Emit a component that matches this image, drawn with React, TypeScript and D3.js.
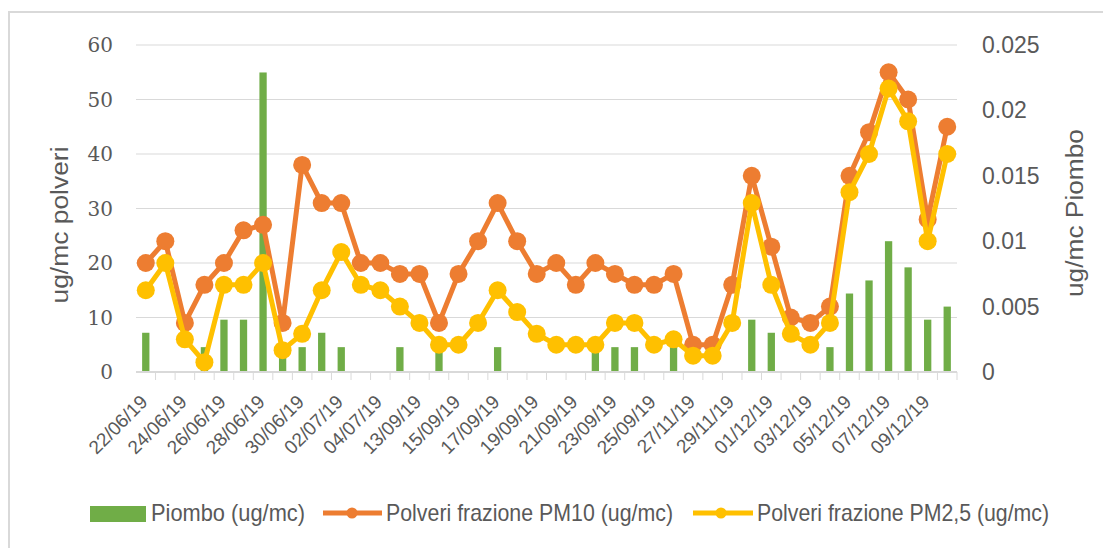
import * as d3 from 'd3'

const dates = [
  '22/06/19', '23/06/19', '24/06/19', '25/06/19', '26/06/19', '27/06/19', '28/06/19',
  '29/06/19', '30/06/19', '01/07/19', '02/07/19', '03/07/19', '04/07/19', '12/09/19',
  '13/09/19', '14/09/19', '15/09/19', '16/09/19', '17/09/19', '18/09/19', '19/09/19',
  '20/09/19', '21/09/19', '22/09/19', '23/09/19', '24/09/19', '25/09/19', '26/11/19',
  '27/11/19', '28/11/19', '29/11/19', '30/11/19', '01/12/19', '02/12/19', '03/12/19',
  '04/12/19', '05/12/19', '06/12/19', '07/12/19', '08/12/19', '09/12/19', '10/12/19',
]

// ug/mc, right axis
const piombo = [
  0.003, 0, 0, 0.0019, 0.004, 0.004, 0.0229, 0.0019, 0.0019, 0.003, 0.0019, 0, 0, 0.0019,
  0, 0.0019, 0, 0, 0.0019, 0, 0, 0, 0, 0.0019, 0.0019, 0.0019, 0, 0.0019,
  0, 0, 0, 0.004, 0.003, 0, 0, 0.0019, 0.006, 0.007, 0.01, 0.008, 0.004, 0.005,
]

// ug/mc, left axis
const pm10 = [
  20, 24, 9, 16, 20, 26, 27, 9, 38, 31, 31, 20, 20, 18,
  18, 9, 18, 24, 31, 24, 18, 20, 16, 20, 18, 16, 16, 18,
  5, 5, 16, 36, 23, 10, 9, 12, 36, 44, 55, 50, 28, 45,
]

const pm25 = [
  15, 20, 6, 1.8, 16, 16, 20, 4, 7, 15, 22, 16, 15, 12,
  9, 5, 5, 9, 15, 11, 7, 5, 5, 5, 9, 9, 5, 6,
  3, 3, 9, 31, 16, 7, 5, 9, 33, 40, 52, 46, 24, 40,
]

const leftTicks = [0, 10, 20, 30, 40, 50, 60]
const rightTicks = [0, 0.005, 0.01, 0.015, 0.02, 0.025]

const GREEN = '#70AD47'
const ORANGE = '#ED7D31'
const YELLOW = '#FFC000'
const GRID = '#D9D9D9'
const TEXT = '#595959'
const SERIF = "'DejaVu Serif', 'Liberation Serif', serif"
const SANS = "'Liberation Sans', Arial, sans-serif"

export default function App() {
  const width = 1103
  const height = 548
  const plot = { left: 136, right: 957, top: 45, bottom: 372 }

  const x = d3.scaleBand<string>().domain(dates).range([plot.left, plot.right]).padding(0)
  const cx = (d: string) => (x(d) as number) + x.bandwidth() / 2
  const yL = d3.scaleLinear().domain([0, 60]).range([plot.bottom, plot.top])
  const yR = d3.scaleLinear().domain([0, 0.025]).range([plot.bottom, plot.top])

  const line = d3
    .line<number>()
    .x((_, i) => cx(dates[i]))
    .y((d) => yL(d))

  const barW = 7.3
  const bounds = dates.map((d) => x(d) as number).concat([plot.right])

  const fmtR = (v: number) => (v === 0 ? '0' : String(v))

  return (
    <div style={{ position: 'absolute', left: 0, top: 0 }}>
      <svg width={width} height={height} style={{ display: 'block', background: '#fff' }}>
        <rect x={9} y={12} width={1200} height={600} fill="#fff" stroke={GRID} strokeWidth={2} />

        {/* gridlines */}
        {leftTicks.slice(1).map((t) => (
          <line key={'g' + t} x1={plot.left} x2={plot.right} y1={yL(t)} y2={yL(t)} stroke={GRID} strokeWidth={1} />
        ))}

        {/* bars */}
        {piombo.map((v, i) =>
          v > 0 ? (
            <rect
              key={'b' + i}
              x={cx(dates[i]) - barW / 2}
              y={yR(v)}
              width={barW}
              height={yR(0) - yR(v)}
              fill={GREEN}
            />
          ) : null
        )}

        {/* x axis */}
        <line x1={plot.left} x2={plot.right} y1={plot.bottom} y2={plot.bottom} stroke={GRID} strokeWidth={2} />
        {bounds.slice(1).map((b, i) => (
          <line key={'t' + i} x1={b} x2={b} y1={plot.bottom} y2={plot.bottom + 8} stroke={GRID} strokeWidth={1} />
        ))}

        {/* lines */}
        <path d={line(pm10) || ''} fill="none" stroke={ORANGE} strokeWidth={5} strokeLinejoin="round" />
        {pm10.map((v, i) => (
          <circle key={'o' + i} cx={cx(dates[i])} cy={yL(v)} r={9} fill={ORANGE} />
        ))}
        <path d={line(pm25) || ''} fill="none" stroke={YELLOW} strokeWidth={5} strokeLinejoin="round" />
        {pm25.map((v, i) => (
          <circle key={'y' + i} cx={cx(dates[i])} cy={yL(v)} r={9} fill={YELLOW} />
        ))}

        {/* left axis labels */}
        {leftTicks.map((t) => (
          <text
            key={'l' + t}
            x={113}
            y={yL(t)}
            dy="0.36em"
            textAnchor="end"
            fontFamily={SERIF}
            fontSize={20}
            fill={TEXT}
          >
            {t}
          </text>
        ))}

        {/* right axis labels */}
        {rightTicks.map((t) => (
          <text
            key={'r' + t}
            x={982}
            y={yR(t)}
            dy="0.35em"
            fontFamily={SANS}
            fontSize={23}
            fill={TEXT}
          >
            {fmtR(t)}
          </text>
        ))}

        {/* x labels */}
        {dates.map((d, i) =>
          i % 2 === 0 ? (
            <text
              key={'x' + i}
              transform={`translate(${cx(d) + 3},${403}) rotate(-45)`}
              textAnchor="end"
              fontFamily={SANS}
              fontSize={19}
              fill={TEXT}
            >
              {d}
            </text>
          ) : null
        )}

        {/* axis titles */}
        <text
          transform="translate(68,225) rotate(-90)"
          textAnchor="middle"
          fontFamily={SANS}
          fontSize={23}
          textLength={157}
          lengthAdjust="spacingAndGlyphs"
          fill={TEXT}
        >
          ug/mc polveri
        </text>
        <text
          transform="translate(1083,213) rotate(-90)"
          textAnchor="middle"
          fontFamily={SANS}
          fontSize={23}
          textLength={168}
          lengthAdjust="spacingAndGlyphs"
          fill={TEXT}
        >
          ug/mc Piombo
        </text>

        {/* legend */}
        <rect x={90} y={506} width={56} height={16} fill={GREEN} />
        <text x={151} y={521} fontFamily={SANS} fontSize={24} textLength={154} lengthAdjust="spacingAndGlyphs" fill={TEXT}>
          Piombo (ug/mc)
        </text>
        <line x1={323} x2={382} y1={513} y2={513} stroke={ORANGE} strokeWidth={5} />
        <circle cx={352} cy={513} r={5.5} fill={ORANGE} />
        <text x={386} y={521} fontFamily={SANS} fontSize={24} textLength={287} lengthAdjust="spacingAndGlyphs" fill={TEXT}>
          Polveri frazione PM10 (ug/mc)
        </text>
        <line x1={693} x2={753} y1={513} y2={513} stroke={YELLOW} strokeWidth={5} />
        <circle cx={721} cy={513} r={5.5} fill={YELLOW} />
        <text x={757} y={521} fontFamily={SANS} fontSize={24} textLength={292} lengthAdjust="spacingAndGlyphs" fill={TEXT}>
          Polveri frazione PM2,5 (ug/mc)
        </text>
      </svg>
    </div>
  )
}
